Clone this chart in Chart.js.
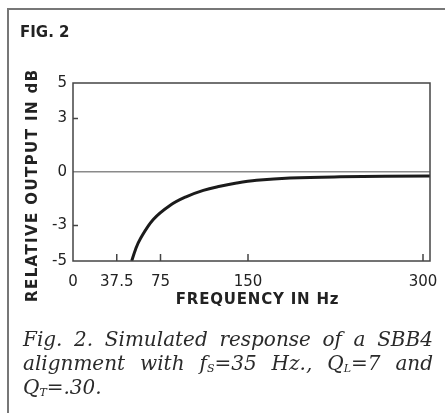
<!DOCTYPE html>
<html lang="en">
<head>
    <meta charset="UTF-8">
    <title>Fig. 2</title>
    <style>
        html, body { margin: 0; padding: 0; background: #ffffff; }
        body { width: 445px; height: 415px; overflow: hidden; position: relative; }
        .fig { position: absolute; left: 20px; top: 25px; font: bold 15px/15px "DejaVu Sans", sans-serif; color: #222; }
        #grafico { position: absolute; left: 0; top: 0; }
        .caption { position: absolute; left: 23px; top: 327px; width: 410px;
                   font: italic 20px/24px "DejaVu Serif", serif; color: #2a2a2a; }
        .caption .linha { white-space: nowrap; }
        .caption .just { text-align: justify; text-align-last: justify; }
        .caption sub { font-size: 11px; vertical-align: -2px; line-height: 0; }
    </style>
</head>
<body>
    <canvas id="grafico" width="445" height="415"></canvas>
    <div class="fig">FIG. 2</div>
    <div class="caption">
        <div class="linha just">Fig. 2. Simulated response of a SBB4</div>
        <div class="linha just">alignment with f<sub>S</sub>=35 Hz., Q<sub>L</sub>=7 and</div>
        <div class="linha">Q<sub>T</sub>=.30.</div>
    </div>

    <script src="https://cdn.jsdelivr.net/npm/chart.js"></script>
    <script>
        // valores
        const freqHz = [50.3, 53.6, 57.4, 68.8, 83.1, 97.4, 111.7, 126, 140.3, 157.4, 186, 229, 306];
        const saidaDb = [-5, -4.35, -3.79, -2.67, -1.88, -1.38, -1.03, -0.80, -0.62, -0.47, -0.34, -0.27, -0.22];
        const ticksX = [0, 37.5, 75, 150, 300];
        const ticksY = [-5, -3, 0, 3, 5];
        const marcasX = [37.5, 75, 150, 300];
        const marcasY = [-3, 3];

        const corTexto = '#222222';
        const corMoldura = '#444444';
        const corBorda = '#777777';

        // titulo com espacamento entre letras
        function espacarTitulo(scale, espaco) {
            if (scale._espacado) return;
            const original = scale.drawTitle;
            scale.drawTitle = function () {
                this.ctx.save();
                this.ctx.letterSpacing = espaco;
                original.call(this);
                this.ctx.restore();
            };
            scale._espacado = true;
        }

        // borda externa da figura, moldura do grafico e marcas para dentro
        const moldura = {
            id: 'moldura',
            beforeDraw(chart) {
                const { ctx } = chart;
                ctx.save();
                ctx.fillStyle = corBorda;
                ctx.fillRect(7, 8, 438, 2);
                ctx.fillRect(7, 8, 2, 405);
                ctx.restore();
            },
            afterDatasetsDraw(chart) {
                const { ctx, chartArea: a, scales: { x, y } } = chart;
                ctx.save();
                ctx.strokeStyle = corMoldura;
                ctx.lineWidth = 1.5;
                ctx.strokeRect(a.left, a.top, a.right - a.left, a.bottom - a.top);
                ctx.beginPath();
                marcasX.forEach(v => {
                    const px = x.getPixelForValue(v);
                    ctx.moveTo(px, a.bottom);
                    ctx.lineTo(px, a.bottom - 7);
                });
                marcasY.forEach(v => {
                    const py = y.getPixelForValue(v);
                    ctx.moveTo(a.left, py);
                    ctx.lineTo(a.left + 5, py);
                });
                ctx.stroke();
                ctx.restore();
            }
        };

        const ctx = document.getElementById('grafico').getContext('2d');
        new Chart(ctx, {
            type: 'line',
            data: {
                datasets: [{
                    data: freqHz.map((f, i) => ({ x: f, y: saidaDb[i] })),
                    borderColor: '#1b1b1b',
                    borderWidth: 3,
                    pointRadius: 0,
                    fill: false,
                    tension: 0.4
                }]
            },
            options: {
                responsive: false,
                animation: false,
                devicePixelRatio: 1,
                layout: { padding: { top: 83, right: 15, left: 0, bottom: 95 } },
                scales: {
                    x: {
                        type: 'linear',
                        min: 0,
                        max: 306,
                        afterBuildTicks: s => { s.ticks = ticksX.map(v => ({ value: v })); },
                        afterFit: s => { s.height = 59; espacarTitulo(s, '0.8px'); },
                        grid: { display: false },
                        border: { display: false },
                        ticks: {
                            color: corTexto,
                            padding: 4,
                            maxRotation: 0,
                            autoSkip: false,
                            font: { family: 'DejaVu Sans', size: 15 },
                            callback: v => String(v)
                        },
                        title: {
                            display: true,
                            text: '  FREQUENCY IN Hz',
                            color: corTexto,
                            padding: { top: 0, bottom: 11 },
                            font: { family: 'DejaVu Sans', size: 15, weight: 'bold' }
                        }
                    },
                    y: {
                        min: -5,
                        max: 5,
                        afterBuildTicks: s => { s.ticks = ticksY.map(v => ({ value: v })); },
                        afterFit: s => { s.width = 73; espacarTitulo(s, '1.4px'); },
                        grid: {
                            drawTicks: false,
                            lineWidth: 1.5,
                            color: c => c.tick && c.tick.value === 0 ? '#8a8a8a' : 'rgba(0,0,0,0)'
                        },
                        border: { display: false },
                        ticks: {
                            color: corTexto,
                            padding: 6,
                            autoSkip: false,
                            font: { family: 'DejaVu Sans', size: 15 },
                            callback: v => String(v)
                        },
                        title: {
                            display: true,
                            text: 'RELATIVE OUTPUT IN dB    ',
                            color: corTexto,
                            padding: { top: 24, bottom: 0 },
                            font: { family: 'DejaVu Sans', size: 15, weight: 'bold' }
                        }
                    }
                },
                plugins: {
                    legend: { display: false },
                    tooltip: { enabled: false }
                }
            },
            plugins: [moldura]
        });
    </script>
</body>
</html>
